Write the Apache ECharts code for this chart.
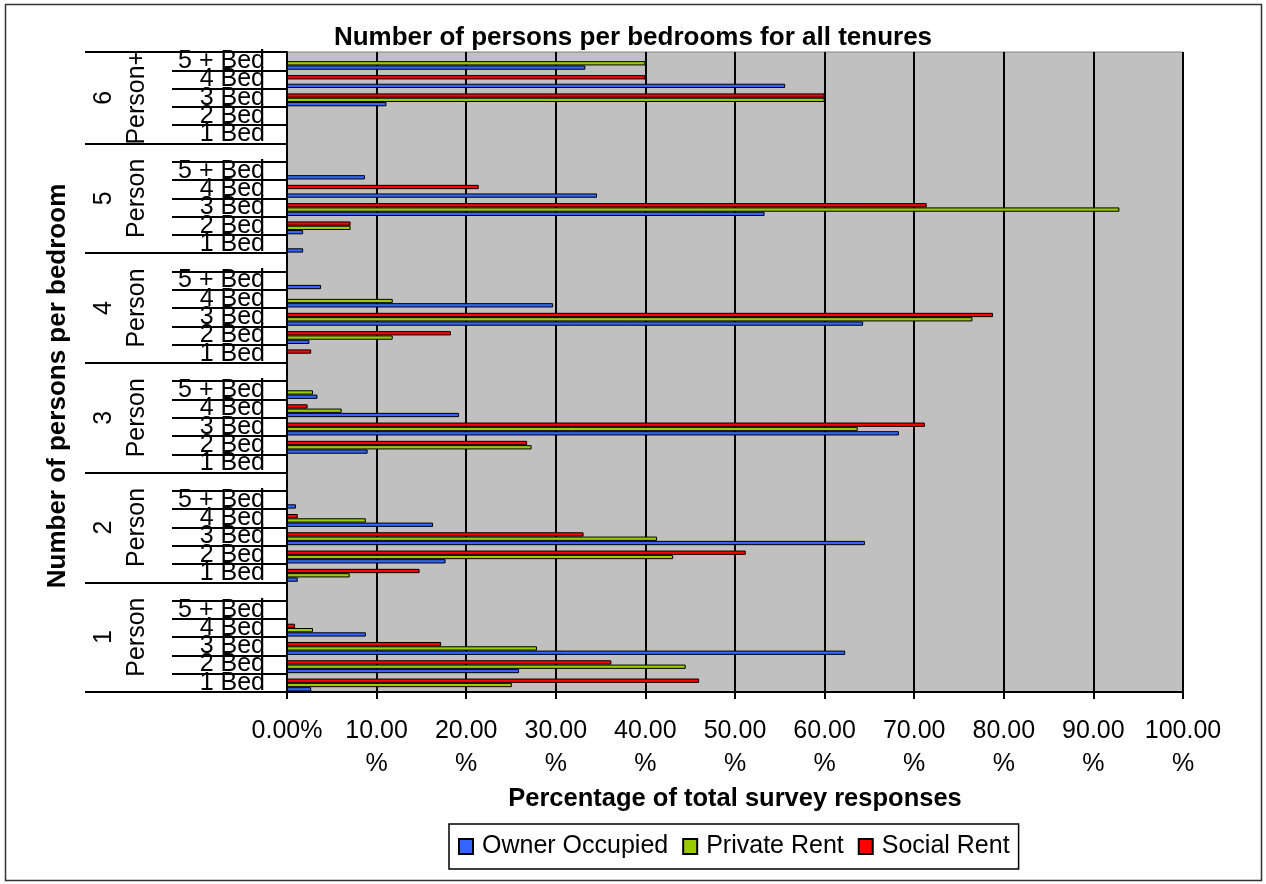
<!DOCTYPE html>
<html>
<head>
<meta charset="utf-8">
<script src="https://cdn.jsdelivr.net/npm/echarts@6/dist/echarts.min.js"></script>
<style>
html,body{margin:0;padding:0;background:#fff;}
#chart{width:1266px;height:884px;}
</style>
</head>
<body>
<div id="chart"></div>
<script>
// ---- data (bed order: 1 Bed, 2 Bed, 3 Bed, 4 Bed, 5 + Bed), percentages ----
const personGroups = ['1\nPerson', '2\nPerson', '3\nPerson', '4\nPerson', '5\nPerson', '6\nPerson+'];
const bedLabels = ['1 Bed', '2 Bed', '3 Bed', '4 Bed', '5 + Bed'];
const xTickLabels = ['0.00%', '10.00\n%', '20.00\n%', '30.00\n%', '40.00\n%', '50.00\n%',
                     '60.00\n%', '70.00\n%', '80.00\n%', '90.00\n%', '100.00\n%'];
const seriesNames = ['Owner Occupied', 'Private Rent', 'Social Rent'];

const ownerOccupied = [
  [2.7, 25.9, 62.3, 8.8, null],
  [1.2, 17.7, 64.5, 16.3, 1.0],
  [null, 9.0, 68.3, 19.2, 3.4],
  [null, 2.5, 64.3, 29.7, 3.8],
  [1.8, 1.8, 53.3, 34.6, 8.7],
  [null, null, 11.1, 55.6, 33.3]
];
const privateRent = [
  [25.1, 44.5, 27.9, 2.9, null],
  [7.0, 43.1, 41.3, 8.8, null],
  [null, 27.3, 63.7, 6.1, 2.9],
  [null, 11.8, 76.5, 11.8, null],
  [null, 7.1, 92.9, null, null],
  [null, null, 60.0, null, 40.0]
];
const socialRent = [
  [46.0, 36.2, 17.2, 0.9, null],
  [14.8, 51.2, 33.1, 1.2, null],
  [null, 26.8, 71.2, 2.3, null],
  [2.7, 18.3, 78.8, null, null],
  [null, 7.1, 71.4, 21.4, null],
  [null, null, 60.0, 40.0, null]
];

// ---- build category rows (a blank row separates person groups) ----
const categories = [];
const rowGroupStart = [];
personGroups.forEach((g, gi) => {
  rowGroupStart.push(categories.length);
  bedLabels.forEach(b => categories.push(b));
  if (gi < personGroups.length - 1) categories.push('');
});
rowGroupStart.push(categories.length);

function flatten(arr) {
  const out = [];
  arr.forEach((grp, gi) => {
    grp.forEach(v => out.push(v == null ? '-' : v));
    if (gi < arr.length - 1) out.push('-');
  });
  return out;
}

// group axis: half-row points (boundaryGap false) so labels sit at group centres
const nHalf = categories.length * 2;
const groupAxisData = [];
for (let i = 0; i <= nHalf; i++) groupAxisData.push('');
const groupTickIdx = rowGroupStart.map(r => r * 2);
const groupLabelIdx = [];
personGroups.forEach((g, gi) => {
  const c = rowGroupStart[gi] + rowGroupStart[gi + 1];
  groupLabelIdx.push(c);
  groupAxisData[c] = g;
});

const FONT = "'Liberation Sans', Arial, sans-serif";
const colors = ['#3366ff', '#99cc00', '#ff0000'];
const seriesData = [ownerOccupied, privateRent, socialRent];

// series listed top-to-bottom within a row: (empty slot), Social, Private, Owner
const barSeries = [{
  type: 'bar', yAxisIndex: 0, data: [], barWidth: 4.3, barGap: '0%', silent: true
}];
[2, 1, 0].forEach(i => {
  barSeries.push({
    name: seriesNames[i], type: 'bar', yAxisIndex: 0,
    data: flatten(seriesData[i]),
    barWidth: 4.3, barGap: '0%',
    itemStyle: {color: colors[i], borderColor: '#000', borderWidth: 1},
    emphasis: {disabled: true}
  });
});

const chart = echarts.init(document.getElementById('chart'), null, {renderer: 'canvas'});
chart.setOption({
  animation: false,
  textStyle: {fontFamily: FONT, color: '#000'},
  title: {
    text: 'Number of persons per bedrooms for all tenures',
    left: 'center', top: 25, padding: 0,
    textStyle: {fontFamily: FONT, fontSize: 26, fontWeight: 'bold', color: '#000'}
  },
  graphic: [{
    type: 'rect', silent: true, z: -1,
    shape: {x: 5.5, y: 4.5, width: 1256, height: 876},
    style: {fill: 'none', stroke: '#333', lineWidth: 1.5}
  }],
  legend: {
    data: seriesNames,
    left: 449, top: 824,
    padding: [10, 9],
    icon: 'rect',
    itemWidth: 14, itemHeight: 15, itemGap: 14,
    borderColor: '#000', borderWidth: 1.5,
    textStyle: {fontFamily: FONT, fontSize: 25, color: '#000', padding: [0, 0, 0, 4]}
  },
  grid: {
    left: 287, right: 83, top: 52, bottom: 192,
    show: true, backgroundColor: '#c0c0c0',
    borderColor: '#808080', borderWidth: 1
  },
  xAxis: {
    type: 'value', min: 0, max: 100, interval: 10,
    name: 'Percentage of total survey responses',
    nameLocation: 'middle', nameGap: 91,
    nameTextStyle: {fontFamily: FONT, fontSize: 25.5, fontWeight: 'bold', color: '#000'},
    axisLine: {show: true, lineStyle: {color: '#000', width: 2}},
    axisTick: {show: true, length: 7, lineStyle: {color: '#000', width: 2}},
    splitLine: {show: true, lineStyle: {color: '#000', width: 2}},
    axisLabel: {
      fontFamily: FONT, fontSize: 25, lineHeight: 33, margin: 23, color: '#000',
      formatter: v => xTickLabels[Math.round(v / 10)]
    }
  },
  yAxis: [{
    type: 'category', data: categories, position: 'left',
    name: 'Number of persons per bedroom',
    nameLocation: 'middle', nameGap: 216,
    nameTextStyle: {fontFamily: FONT, fontSize: 26, fontWeight: 'bold', color: '#000', padding: [0, 28, 0, 0]},
    axisLine: {show: true, lineStyle: {color: '#000', width: 2}},
    axisTick: {show: true, interval: 0, length: 115, lineStyle: {color: '#000', width: 2}},
    axisLabel: {interval: 0, margin: 22, fontFamily: FONT, fontSize: 25, color: '#000'},
    splitLine: {show: false}
  }, {
    type: 'category', data: groupAxisData, position: 'left', boundaryGap: false,
    axisLine: {show: false},
    axisTick: {
      show: true, length: 202, lineStyle: {color: '#000', width: 2},
      interval: (idx) => groupTickIdx.indexOf(idx) >= 0
    },
    axisLabel: {
      interval: (idx) => groupLabelIdx.indexOf(idx) >= 0,
      rotate: 90, margin: 133, fontFamily: FONT, fontSize: 25, lineHeight: 33, color: '#000'
    },
    splitLine: {show: false}
  }],
  series: barSeries
});
</script>
</body>
</html>
